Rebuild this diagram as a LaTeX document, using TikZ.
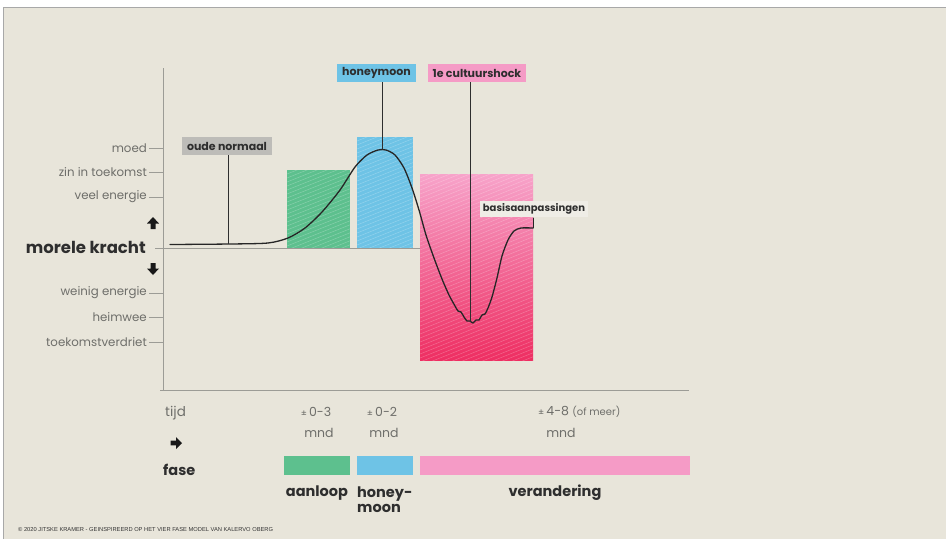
\documentclass[tikz,border=0pt]{standalone}
\usepackage{fontspec}
\setmainfont{Poppins}
\newfontfamily\arialf{Liberation Sans}
\definecolor{bg}{HTML}{E8E5DA}
\definecolor{framegray}{HTML}{A8A8A8}
\definecolor{axisgray}{HTML}{9C9C96}
\definecolor{lblgray}{HTML}{6E6E6A}
\definecolor{darktxt}{HTML}{2E2E2E}
\definecolor{phgreen}{HTML}{5DC08E}
\definecolor{phblue}{HTML}{6EC3E6}
\definecolor{phpink}{HTML}{F59BC6}
\definecolor{pinkL}{HTML}{F7A3CA}
\definecolor{pinkD}{HTML}{EE2E62}
\definecolor{boxgray}{HTML}{BDBCB8}
\definecolor{boxlight}{HTML}{EFEDE6}
\newcommand\hatchbox[4]{%
  \begin{scope}
    \clip (#1,#2) rectangle (#3,#4);
    \foreach \k in {-200,-196,...,400}
      \draw[white, opacity=0.25, line width=0.5pt] (#1-10,#2+\k) -- ++(200,-80);
  \end{scope}}
\tikzset{
  lbl/.style={font=\fontsize{11.8}{13}\selectfont, text=lblgray, anchor=east, inner sep=2pt},
  tickln/.style={axisgray, line width=0.6pt},
  axis/.style={axisgray, line width=0.9pt},
  tag/.style={font=\bfseries\fontsize{11}{12}\selectfont, text=darktxt, inner xsep=5pt, inner ysep=2.5pt, minimum height=18pt},
  pointer/.style={darktxt, line width=0.8pt},
  curve/.style={black!85, line width=1.3pt, line join=round, line cap=round},
  botg/.style={font=\fontsize{12.5}{14}\selectfont, text=lblgray, inner sep=0pt},
  botb/.style={font=\bfseries\fontsize{14.5}{15}\selectfont, text=darktxt, inner sep=0pt},
  blockarrow/.style={fill=black!90, draw=none}
}
\begin{document}
\begin{tikzpicture}[x=1pt,y=-1pt]
\useasboundingbox (0,0) rectangle (946,539);
\fill[white] (0,0) rectangle (946,539);
\fill[bg] (3,7) rectangle (946,539);
\draw[framegray, line width=0.8pt] (3,539) -- (3,7) -- (946,7);

% phase areas
\fill[phgreen] (287,170) rectangle (350,248);
\hatchbox{287}{170}{350}{248}
\fill[phblue] (357,137) rectangle (413,248);
\hatchbox{357}{137}{413}{248}
\shade[top color=pinkL, bottom color=pinkD] (420,174) rectangle (533,360);
\hatchbox{420}{174}{533}{360}

% axes
\draw[axis] (163,68) -- (163,390);
\draw[axis] (160,390) -- (689,390);
\draw[tickln] (155,248) -- (420,248);

% value labels
\node[lbl] (moed) at (149,148) {moed};
\node[lbl] (zin) at (149,172) {zin in toekomst};
\node[lbl] (veel) at (149,197) {veel energie};
\node[lbl] (weinig) at (149,293) {weinig energie};
\node[lbl] (heim) at (149,317) {heimwee};
\node[lbl] (toek) at (149,342) {toekomstverdriet};
\foreach \n in {moed,zin,veel,weinig,heim,toek}
  \draw[tickln] (\n.east) -- (\n.east -| 163,0);

\node[font=\bfseries\fontsize{16.5}{18}\selectfont, text=darktxt, anchor=east, inner sep=0pt] (mk) at (146,247) {morele kracht};
% up / down arrows
\fill[blockarrow] (153,217) -- (159,223.5) -- (155.5,223.5) -- (155.5,229) -- (150.5,229) -- (150.5,223.5) -- (147,223.5) -- cycle;
\fill[blockarrow] (153,275) -- (159,268.5) -- (155.5,268.5) -- (155.5,263) -- (150.5,263) -- (150.5,268.5) -- (147,268.5) -- cycle;

% curve
\draw[curve] plot[smooth, tension=0.45] coordinates {
 (170,244.5) (230,244) (268,243) (288,238) (305,228) (322,212) (340,190)
 (355,167) (367,155) (378,150) (386,150) (395,155) (404,168) (412,188)
 (419,210) (426,235) (434,258) (442,279) (449,295) (455,306) (458,311)
 (461,312) (464,317) (467,321) (470,321) (473,323) (476,320) (479,320)
 (482,315) (485,314) (488,308) (492,297) (497,278) (502,256) (508,240)
 (514,231) (521,228) (533,228)};
\draw[curve, line width=0.9pt] (533,228) -- (533,218);

% tag labels with pointers
\node[tag, fill=boxgray] (oude) at (227,146) {oude normaal};
\coordinate (oudeP) at (228,244);
\draw[pointer] (oude.south -| oudeP) -- (oudeP);

\node[tag, fill=phblue] (honey) at (376.5,73) {honeymoon};
\coordinate (honeyP) at (382,150);
\draw[pointer] (honey.south -| honeyP) -- (honeyP);

\node[tag, fill=phpink] (shock) at (477,73) {1e cultuurshock};
\coordinate (shockP) at (470,322);
\draw[pointer] (shock.south -| shockP) -- (shockP);

\node[tag, fill=boxlight, minimum height=15pt, inner xsep=3pt, font=\bfseries\fontsize{10}{11}\selectfont] (basis) at (534,209) {basisaanpassingen};

% time / phase row
\node[botg, anchor=west, font=\fontsize{13.5}{15}\selectfont] (tijd) at (165,413) {tijd};
\fill[blockarrow] (182,443) -- (176,437) -- (176,440.6) -- (170.5,440.6) -- (170.5,445.4) -- (176,445.4) -- (176,449) -- cycle;
\node[botb, anchor=west] (fase) at (163,470) {fase};

\node[botg] (t1) at (316,412) {{\fontsize{9}{9}\selectfont ±}\,0-3};
\node[botg] (m1) at (319,433) {mnd};
\node[botg] (t2) at (382,412) {{\fontsize{9}{9}\selectfont ±}\,0-2};
\node[botg] (m2) at (384,433) {mnd};
\node[botg, anchor=west] (t3) at (538,412) {{\fontsize{9}{9}\selectfont ±}\,4-8 {\fontsize{10}{10}\selectfont (of meer)}};
\node[botg] (m3) at (561,433) {mnd};

\fill[phgreen] (284,456) rectangle (350,475);
\fill[phblue] (357,456) rectangle (413,475);
\fill[phpink] (420,456) rectangle (690,475);

\node[botb] (aan) at (317,493) {aanloop};
\node[botb, anchor=west, align=left] (hm) at (357,500) {honey-\\moon};
\node[botb] (ver) at (555,493) {verandering};

\node[font=\arialf\fontsize{5.75}{6}\selectfont, text=black!80, anchor=west, inner sep=0pt] (copy) at (18,530) {© 2020 JITSKE KRAMER - GEINSPIREERD OP HET VIER FASE MODEL VAN KALERVO OBERG};
\end{tikzpicture}
\end{document}
